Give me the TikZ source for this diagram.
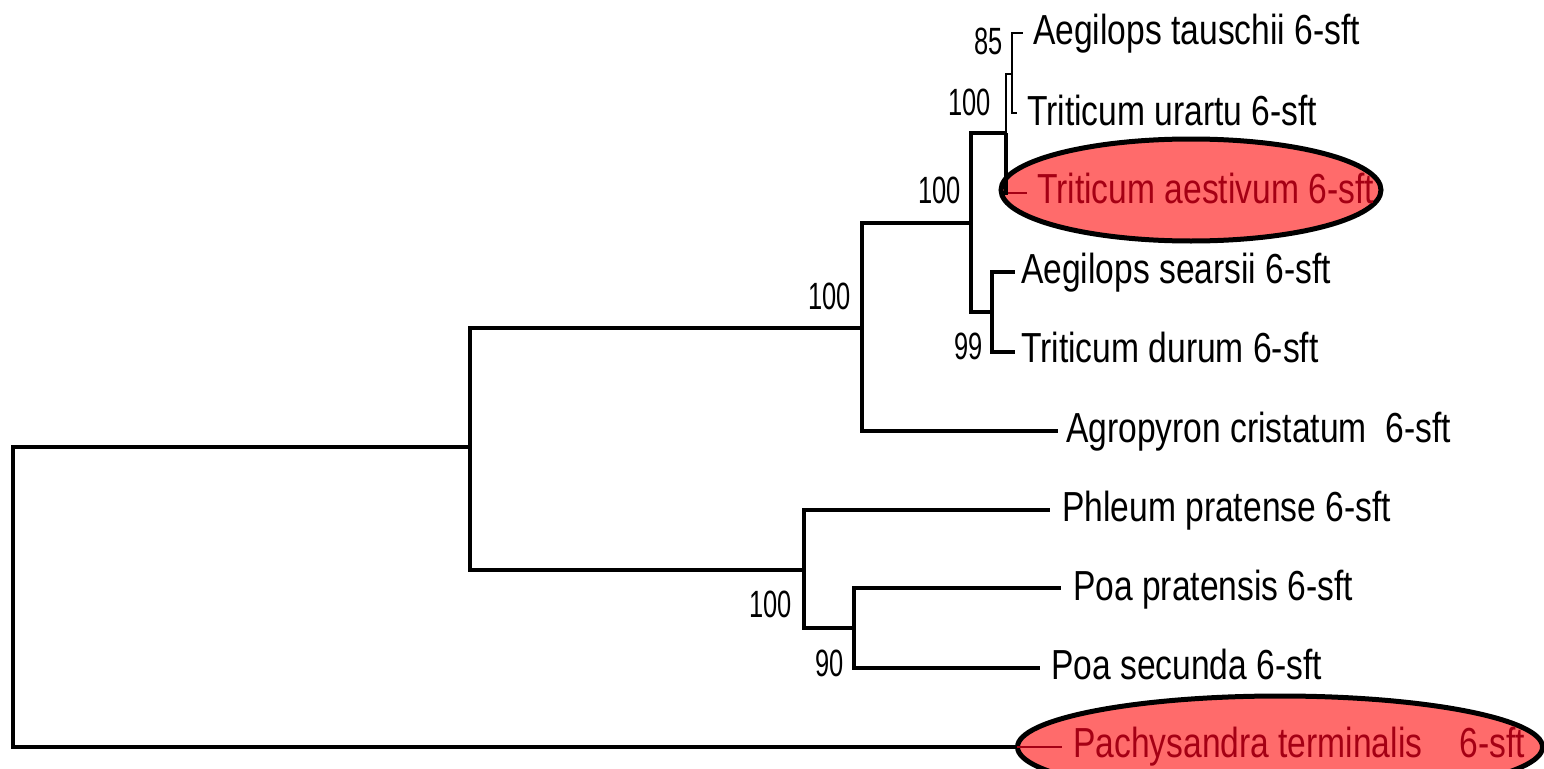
\documentclass[tikz,border=0pt]{standalone}
\usepackage{graphicx}
\usepackage{fontspec}
\setmainfont{Liberation Sans}
\usetikzlibrary{shapes.geometric}
\definecolor{hlfill}{RGB}{255,107,107}
\definecolor{hltext}{RGB}{165,0,20}
\newcommand\spn[1]{\scalebox{0.8}[1]{#1}}
\newcommand\bsn[1]{\scalebox{0.67}[1]{#1}}
\begin{document}
\begin{tikzpicture}[x=1pt,y=-1pt,
  branch/.style={line width=3.3pt, line join=miter},
  thinbranch/.style={line width=2.4pt, line join=miter},
  redbranch/.style={line width=2.4pt, draw=hltext},
  species/.style={anchor=base west, inner sep=0pt, font=\fontsize{42}{42}\selectfont},
  hlspecies/.style={species, text=hltext},
  boot/.style={anchor=base east, inner sep=0pt, font=\fontsize{38}{38}\selectfont},
  hlell/.style={ellipse, draw=black, line width=5pt, fill=hlfill, inner sep=0pt}]
\useasboundingbox (0,0) rectangle (1544,768);
\fill[white] (0,0) rectangle (1544,768);
\clip (0,0) rectangle (1544,768);

% highlight ellipses
\node[hlell, minimum width=380pt, minimum height=102pt] (ellA) at (1191,190) {};
\node[hlell, minimum width=525pt, minimum height=102pt] (ellP) at (1280,747) {};

% internal nodes
\coordinate (R) at (13,597);
\coordinate (A) at (470,447);
\coordinate (B) at (862,328);
\coordinate (C) at (971,223);
\coordinate (D) at (1006,133);
\coordinate (F) at (1012,74);
\coordinate (E) at (992,312);
\coordinate (L) at (804,570);
\coordinate (M) at (854,628);

% leaf ends
\coordinate (tau) at (1023,33);
\coordinate (ura) at (1017,113);
\coordinate (aesS) at (1008,193);
\coordinate (aes) at (1027,193);
\coordinate (sea) at (1015,272);
\coordinate (dur) at (1015,352);
\coordinate (agr) at (1058,431);
\coordinate (phl) at (1050,510);
\coordinate (ppr) at (1061,588);
\coordinate (pse) at (1040,668);
\coordinate (pacS) at (1017,747);
\coordinate (pac) at (1062,747);

% branches
\draw[branch] (R) |- (A);
\draw[branch] (R) |- (pacS);
\draw[redbranch] (pacS) -- (pac);
\draw[branch] (A) |- (B);
\draw[branch] (A) |- (L);
\draw[branch] (B) |- (C);
\draw[branch] (B) |- (agr);
\draw[branch] (C) |- (D);
\draw[branch] (C) |- (E);
\draw[thinbranch] (D) |- (F);
\draw[branch] (D) |- (aesS);
\draw[redbranch] (aesS) -- (aes);
\draw[thinbranch] (F) |- (tau);
\draw[thinbranch] (F) |- (ura);
\draw[branch] (E) |- (sea);
\draw[branch] (E) |- (dur);
\draw[branch] (L) |- (phl);
\draw[branch] (L) |- (M);
\draw[branch] (M) |- (ppr);
\draw[branch] (M) |- (pse);

% species labels
\node[species] (tauL) at (1033,45) {\spn{Aegilops tauschii 6-sft}};
\node[species] (uraL) at (1027,125) {\spn{Triticum urartu 6-sft}};
\node[hlspecies] (aesL) at (1037,203) {\spn{Triticum aestivum 6-sft}};
\node[species] (seaL) at (1021,283) {\spn{Aegilops searsii 6-sft}};
\node[species] (durL) at (1021,362) {\spn{Triticum durum 6-sft}};
\node[species] (agrL) at (1066,442) {\spn{Agropyron cristatum\ \ 6-sft}};
\node[species] (phlL) at (1062,521) {\spn{Phleum pratense 6-sft}};
\node[species] (pprL) at (1073,600) {\spn{Poa pratensis 6-sft}};
\node[species] (pseL) at (1051,679) {\spn{Poa secunda 6-sft}};
\node[hlspecies] (pacL) at (1073,757) {\spn{Pachysandra terminalis\ \ \ \ 6-sft}};

% bootstrap values
\node[boot] (bF) at (1003,55) {\bsn{85}};
\node[boot] (bD) at (991,115) {\bsn{100}};
\node[boot] (bC) at (961,203) {\bsn{100}};
\node[boot] (bE) at (983,359) {\bsn{99}};
\node[boot] (bB) at (851,309) {\bsn{100}};
\node[boot] (bL) at (792,617) {\bsn{100}};
\node[boot] (bM) at (844,676) {\bsn{90}};
\end{tikzpicture}
\end{document}
